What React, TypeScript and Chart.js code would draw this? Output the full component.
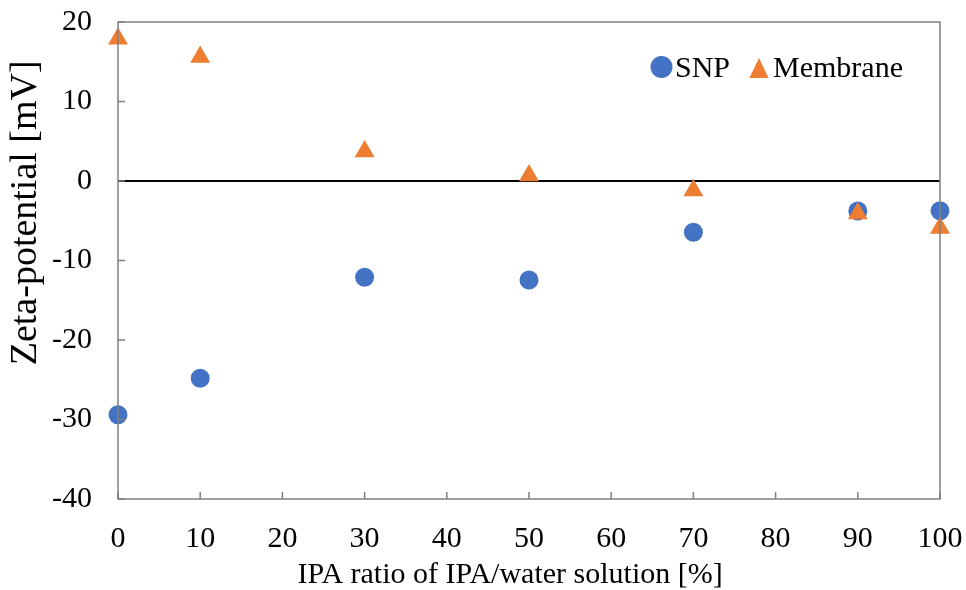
import React, { useEffect, useRef } from "react";
import { Chart, registerables } from "chart.js";

Chart.register(...registerables);

// IPA ratio (%) of the IPA/water solution
const ipaRatio = [0, 10, 30, 50, 70, 90, 100];
// Zeta-potential (mV)
const snpZeta = [-29.4, -24.8, -12.1, -12.45, -6.45, -3.77, -3.74];
const membraneZeta = [17.9, 15.6, 3.7, 0.7, -1.2, -4.1, -5.9];

const xTicks = [0, 10, 20, 30, 40, 50, 60, 70, 80, 90, 100];
const yTicks = [-40, -30, -20, -10, 0, 10, 20];

const xTitle = "IPA ratio of IPA/water solution [%]";
const yTitle = "Zeta-potential [mV]";

const FONT = "'Liberation Serif', 'Times New Roman', serif";
const BLUE = "#4472C4";
const ORANGE = "#ED7D31";
const FRAME = "#808080";

function triangle(ctx: CanvasRenderingContext2D, cx: number, cy: number, w: number, h: number) {
  ctx.beginPath();
  ctx.moveTo(cx, cy - h / 2);
  ctx.lineTo(cx + w / 2, cy + h / 2);
  ctx.lineTo(cx - w / 2, cy + h / 2);
  ctx.closePath();
  ctx.fill();
}

// Plot frame, inward tick marks, axis titles and the legend box
const decorPlugin = {
  id: "decor",
  afterDatasetsDraw(chart: any) {
    const { ctx, chartArea, scales } = chart;
    const { left, right, top, bottom } = chartArea;
    ctx.save();
    ctx.strokeStyle = FRAME;
    ctx.lineWidth = 1.5;
    ctx.beginPath();
    for (const v of xTicks) {
      const x = scales.x.getPixelForValue(v);
      ctx.moveTo(x, bottom);
      ctx.lineTo(x, bottom - 7);
    }
    for (const v of yTicks) {
      const y = scales.y.getPixelForValue(v);
      ctx.moveTo(left, y);
      ctx.lineTo(left + 7, y);
    }
    ctx.stroke();
    ctx.strokeRect(left, top, right - left, bottom - top);

    // axis titles
    ctx.fillStyle = "#000";
    ctx.textAlign = "center";
    ctx.textBaseline = "middle";
    ctx.font = `30px ${FONT}`;
    ctx.fillText(xTitle, left + (right - left) * 0.477, 575);
    ctx.save();
    ctx.translate(26, top + (bottom - top) * 0.4);
    ctx.rotate(-Math.PI / 2);
    ctx.font = `38px ${FONT}`;
    ctx.fillText(yTitle, 0, 0);
    ctx.restore();

    // legend
    const ds = chart.data.datasets;
    const ly = top + 45;
    ctx.fillStyle = ds[0].backgroundColor;
    ctx.beginPath();
    ctx.arc(right - 278.5, ly, 11, 0, Math.PI * 2);
    ctx.fill();
    ctx.fillStyle = ds[1].backgroundColor;
    triangle(ctx, right - 181, ly + 1, 19, 20);
    ctx.fillStyle = "#000";
    ctx.textAlign = "left";
    ctx.textBaseline = "alphabetic";
    ctx.font = `30px ${FONT}`;
    ctx.fillText(ds[0].label, right - 265, ly + 9.5);
    ctx.fillText(ds[1].label, right - 167, ly + 9.5);
    ctx.restore();
  },
};

export default function App() {
  const canvasRef = useRef<HTMLCanvasElement | null>(null);

  useEffect(() => {
    const canvas = canvasRef.current;
    if (!canvas) return;
    const chart = new Chart(canvas, {
      type: "scatter",
      data: {
        datasets: [
          {
            label: "SNP",
            data: ipaRatio.map((x, i) => ({ x, y: snpZeta[i] })),
            order: 2,
            pointStyle: "circle",
            pointRadius: 9.5,
            pointHoverRadius: 9.5,
            backgroundColor: BLUE,
            borderColor: BLUE,
            borderWidth: 0,
          },
          {
            label: "Membrane",
            data: ipaRatio.map((x, i) => ({ x, y: membraneZeta[i] })),
            order: 1,
            pointStyle: "triangle",
            pointRadius: 11.5,
            pointHoverRadius: 11.5,
            backgroundColor: ORANGE,
            borderColor: ORANGE,
            borderWidth: 0,
          },
        ],
      },
      plugins: [decorPlugin],
      options: {
        animation: false,
        responsive: false,
        clip: false as any,
        layout: { padding: { top: 22, right: 26, left: 0, bottom: 0 } },
        plugins: {
          tooltip: { enabled: false },
          legend: { display: false },
        },
        scales: {
          x: {
            type: "linear",
            min: 0,
            max: 100,
            afterFit: (s: any) => {
              s.height = 91;
              s.paddingLeft = 0;
              s.paddingRight = 0;
            },
            afterBuildTicks: (s: any) => {
              s.ticks = xTicks.map((v) => ({ value: v }));
            },
            border: { display: false },
            grid: { display: false, drawTicks: false },
            ticks: {
              color: "#000",
              padding: 22,
              font: { family: FONT, size: 30 },
              maxRotation: 0,
            },
          },
          y: {
            type: "linear",
            min: -40,
            max: 20,
            afterFit: (s: any) => {
              s.width = 118;
              s.paddingTop = 0;
              s.paddingBottom = 0;
            },
            afterBuildTicks: (s: any) => {
              s.ticks = yTicks.map((v) => ({ value: v }));
            },
            border: { display: false },
            grid: {
              drawTicks: false,
              color: (c: any) => (c.tick && c.tick.value === 0 ? "#000" : "rgba(0,0,0,0)"),
              lineWidth: 2,
            },
            ticks: {
              color: "#000",
              padding: 26,
              font: { family: FONT, size: 30 },
            },
          },
        },
      },
    });
    return () => chart.destroy();
  }, []);

  return (
    <div style={{ position: "fixed", left: 0, top: 0, width: 966, height: 590, background: "#fff" }}>
      <canvas ref={canvasRef} width={966} height={590} style={{ width: 966, height: 590 }} />
    </div>
  );
}
